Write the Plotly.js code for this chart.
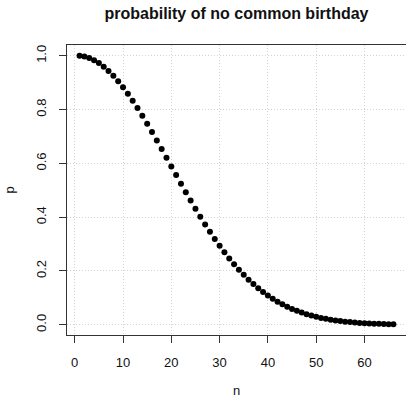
<!DOCTYPE html>
<html>
<head>
<meta charset="utf-8">
<script src="https://cdn.plot.ly/plotly-3.0.1.min.js"></script>
<style>html,body{margin:0;padding:0;background:#fff;}#chart{width:406px;height:398px;}</style>
</head>
<body>
<div id="chart"></div>
<script>
const n = [1,2,3,4,5,6,7,8,9,10,11,12,13,14,15,16,17,18,19,20,21,22,23,24,25,26,27,28,29,30,31,32,33,34,35,36,37,38,39,40,41,42,43,44,45,46,47,48,49,50,51,52,53,54,55,56,57,58,59,60,61,62,63,64,65,66];
const p = [1.0000,0.9973,0.9918,0.9836,0.9729,0.9595,0.9438,0.9257,0.9054,0.8831,0.8589,0.8330,0.8056,0.7769,0.7471,0.7164,0.6850,0.6531,0.6209,0.5886,0.5563,0.5243,0.4927,0.4617,0.4313,0.4018,0.3731,0.3455,0.3190,0.2937,0.2695,0.2467,0.2250,0.2047,0.1856,0.1678,0.1513,0.1359,0.1218,0.1088,0.0968,0.0860,0.0761,0.0671,0.0590,0.0517,0.0452,0.0394,0.0342,0.0296,0.0256,0.0220,0.0189,0.0161,0.0137,0.0117,0.0099,0.0083,0.0070,0.0059,0.0049,0.0041,0.0034,0.0028,0.0023,0.0019];
const xTicks = [0,10,20,30,40,50,60];
const yTicks = [0.0,0.2,0.4,0.6,0.8,1.0];
const yTickText = ["0.0","0.2","0.4","0.6","0.8","1.0"];
const titleText = "probability of no common birthday";

const font = {family: "Liberation Sans, Arial, sans-serif", size: 13, color: "#111"};
const axisCommon = {
  showline: true, mirror: true, linecolor: "#333", linewidth: 1,
  ticks: "outside", ticklen: 7, tickcolor: "#333", tickwidth: 1,
  showgrid: true, gridcolor: "#d3d3d3", griddash: "1px,2px", gridwidth: 1,
  zeroline: false, tickfont: font
};
const layout = {
  width: 406, height: 398,
  margin: {l: 67, r: 0, t: 45, b: 63},
  paper_bgcolor: "#fff", plot_bgcolor: "#fff",
  showlegend: false,
  font: font,
  title: {text: "<b>" + titleText + "</b>", font: {family: "Liberation Sans, Arial, sans-serif", size: 16, color: "#111"},
          x: 0.5825, xanchor: "center", xref: "container", y: 0.967, yanchor: "middle", yref: "container"},
  xaxis: Object.assign({}, axisCommon, {
    range: [-1.6, 68.6], tickvals: xTicks, ticktext: xTicks.map(String),
    ticklabelstandoff: 8,
    title: {text: "n", font: font, standoff: 22}
  }),
  yaxis: Object.assign({}, axisCommon, {
    range: [-0.038, 1.04], tickvals: yTicks, ticktext: yTickText, tickangle: -90,
    ticklabelstandoff: 8,
    title: {text: "p", font: font, standoff: 16}
  })
};
const data = [{
  type: "scatter", mode: "markers", x: n, y: p,
  marker: {color: "#000", size: 6, line: {width: 0}},
  cliponaxis: false
}];
Plotly.newPlot("chart", data, layout, {displayModeBar: false, staticPlot: true});
</script>
</body>
</html>
